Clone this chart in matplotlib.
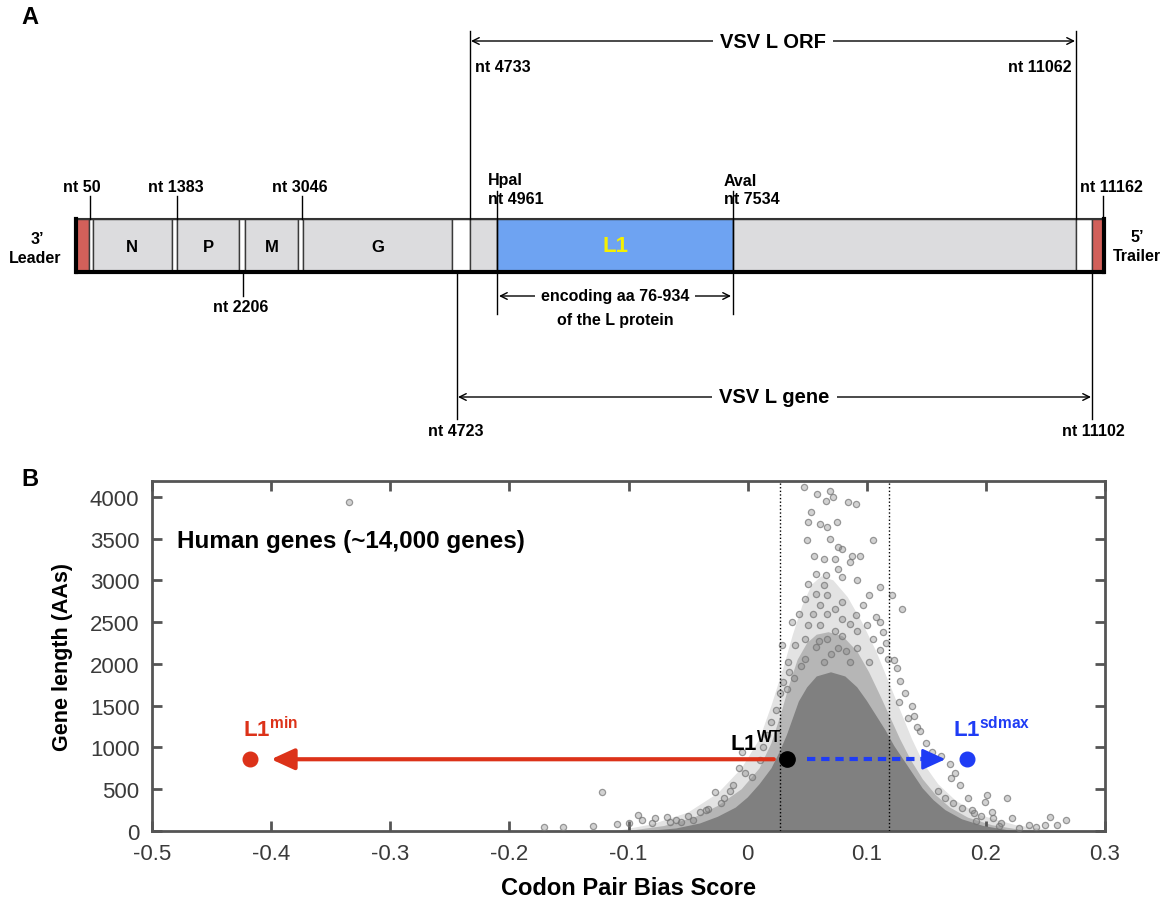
import numpy as np
import matplotlib
matplotlib.use('Agg')
import matplotlib.pyplot as plt
from matplotlib.patches import Rectangle, Polygon
from matplotlib import font_manager as fm

names = {f.name for f in fm.fontManager.ttflist}
NARROW = 'Liberation Sans Narrow' if 'Liberation Sans Narrow' in names else 'Liberation Sans'
SANS = 'Liberation Sans'
plt.rcParams['font.family'] = [SANS, 'DejaVu Sans']
plt.rcParams['axes.unicode_minus'] = False
plt.rcParams['mathtext.fontset'] = 'custom'
plt.rcParams['mathtext.rm'] = 'Liberation Sans'
plt.rcParams['mathtext.bf'] = 'Liberation Sans:bold'

# ---------------- data : panel A (VSV genome map) ----------------
gene_names = ['N', 'P', 'M', 'G']
nt_top = [50, 1383, 3046, 11162]
nt_bottom = [2206]
orf_nt = [4733, 11062]
lgene_nt = [4723, 11102]
site_names = ['HpaI', 'AvaI']
site_nt = [4961, 7534]
l1_aa = [76, 934]

# ---------------- data : panel B (codon pair bias) ----------------
cpb_ticks = [-0.5, -0.4, -0.3, -0.2, -0.1, 0.0, 0.1, 0.2, 0.3]
len_ticks = [0, 500, 1000, 1500, 2000, 2500, 3000, 3500, 4000]
sd_band = [0.027, 0.119]
l1_len = 859
l1_wt_cpb = 0.033
l1_min_cpb = -0.418
l1_sdmax_cpb = 0.184

# density outlines of the human gene cloud (CPB, length)
core_x = [-0.085, -0.06, -0.04, -0.025, -0.01, 0.0, 0.01, 0.02, 0.027, 0.033, 0.038, 0.043,
          0.050, 0.058, 0.070, 0.082, 0.092, 0.100, 0.108, 0.116, 0.123, 0.131, 0.139, 0.147,
          0.156, 0.166, 0.180, 0.198, 0.222]
core_y = [0, 30, 90, 170, 280, 400, 560, 750, 950, 1150, 1350, 1550,
          1720, 1850, 1900, 1850, 1720, 1560, 1380, 1200, 1020, 850, 680, 510,
          370, 250, 140, 60, 0]
mid_x = [-0.10, -0.07, -0.045, -0.025, -0.005, 0.010, 0.020, 0.028, 0.035, 0.042, 0.050,
         0.058, 0.068, 0.080, 0.092, 0.102, 0.112, 0.120, 0.128, 0.137, 0.147, 0.158, 0.170,
         0.185, 0.205, 0.235]
mid_y = [0, 60, 160, 300, 500, 750, 1050, 1400, 1750, 2050, 2250,
         2350, 2380, 2330, 2150, 1900, 1600, 1350, 1100, 850, 620, 430, 280,
         160, 70, 0]
halo_x = [-0.11, -0.08, -0.05, -0.025, -0.005, 0.010, 0.020, 0.030, 0.038, 0.046, 0.054,
          0.062, 0.072, 0.084, 0.096, 0.108, 0.118, 0.128, 0.138, 0.148, 0.160, 0.175, 0.195,
          0.225, 0.26]
halo_y = [0, 80, 220, 450, 750, 1100, 1500, 1950, 2350, 2700, 2950,
          3050, 3000, 2800, 2500, 2150, 1800, 1450, 1100, 800, 560, 360, 190,
          70, 0]
# individually visible genes
genes_x = [0.047, 0.058, 0.069, 0.066, 0.072, 0.084, 0.091, 0.053, 0.051, 0.061, 0.067, 0.075,
           0.105, 0.050, 0.069, 0.076, 0.079, 0.056, 0.064, 0.073, 0.088, 0.094, 0.086, 0.076,
           0.057, 0.066, 0.079, 0.092, 0.051, 0.064, 0.111, 0.057, 0.067, 0.102, 0.121, 0.048,
           0.079, 0.061, 0.073, 0.130, 0.055, 0.067, 0.091, 0.079, 0.037, 0.051, 0.061, 0.086,
           0.100, 0.111, 0.073, 0.092, 0.114, 0.048, 0.067, 0.079, 0.105, 0.040, 0.057, 0.076,
           0.092, 0.111, 0.034, 0.048, 0.064, 0.086, 0.102, 0.118, 0.029, 0.125, 0.035, 0.128,
           0.030, 0.132, 0.027, 0.138, 0.024, 0.140, 0.020, 0.145, 0.016, 0.150, 0.013, 0.155,
           -0.005, -0.007, -0.002, -0.027, -0.122, -0.092, -0.089, -0.078, -0.068, -0.100,
           -0.065, -0.056, -0.046, -0.040, -0.033, -0.020, -0.012, -0.171, -0.155, -0.335,
           -0.130, -0.110, 0.201, 0.218, 0.185, 0.199, 0.171, 0.174, 0.206, 0.222, 0.236,
           0.254, 0.267, 0.250, 0.260, 0.188, 0.192, 0.213, 0.170, 0.162, 0.178,
           0.043, 0.097, 0.108, 0.083, 0.070, 0.060, 0.045, 0.116, 0.123, 0.039, 0.033, 0.127,
           0.135, 0.142, 0.010, 0.004, -0.015, -0.022, -0.035, -0.050, -0.060, -0.080, 0.160,
           0.166, 0.172, 0.180, 0.190, 0.196, 0.205, 0.211, 0.228, 0.242]
genes_y = [4116, 4036, 4076, 3956, 4000, 3936, 3916, 3813, 3697, 3677, 3637, 3697,
           3478, 3478, 3498, 3398, 3378, 3298, 3259, 3259, 3298, 3298, 3219, 3139,
           3080, 3060, 3040, 3000, 2960, 2940, 2920, 2841, 2821, 2821, 2821, 2781,
           2741, 2701, 2661, 2661, 2602, 2602, 2582, 2540, 2502, 2462, 2462, 2480,
           2462, 2502, 2400, 2400, 2382, 2303, 2303, 2340, 2303, 2223, 2200, 2190,
           2190, 2170, 2024, 2064, 2024, 2024, 2024, 2064, 2223, 1950, 1900, 1800,
           1780, 1650, 1650, 1500, 1450, 1380, 1300, 1200, 1150, 1050, 1000, 950,
           948, 749, 700, 470, 470, 191, 130, 150, 171, 92,
           110, 110, 130, 231, 260, 400, 550, 52, 52, 3940,
           60, 80, 430, 390, 400, 350, 629, 700, 151, 151, 72,
           171, 131, 72, 72, 250, 120, 100, 800, 900, 550,
           2600, 2700, 2560, 2150, 2120, 2280, 1980, 2250, 2050, 1830, 1700, 1550,
           1350, 1250, 850, 650, 480, 340, 250, 180, 130, 90, 480,
           390, 330, 270, 210, 180, 230, 60, 40, 45]

# ---------------- figure ----------------
W, H = 1168, 904
fig = plt.figure(figsize=(W / 100, H / 100), dpi=100)
fig.patch.set_facecolor('white')

# panel A on a pixel-grid canvas
axA = fig.add_axes([0, 0, 1, 1], zorder=0)
axA.set_xlim(0, W)
axA.set_ylim(H, 0)
axA.axis('off')

# schematic placement of nucleotide positions (map is not to scale)
anchor_nt = [0, 50, 1383, 2206, 3046, 4723, 4733, 4961, 7534, 11062, 11102, 11162, 11200]
anchor_px = [75, 90, 177, 243, 302, 457, 470, 497, 733, 1076, 1092, 1103, 1105]
def px(nt):
    return float(np.interp(nt, anchor_nt, anchor_px))

y0, y1 = 220, 273
ym = (y0 + y1) / 2
GRAY = '#dcdcde'
RED = '#d2605a'
BLUE_L1 = '#6ea3f2'
segs = [  # (left, right, color)
    (76, 89, RED), (89, 93, 'white'), (93, 172, GRAY), (172, 177, 'white'),
    (177, 239, GRAY), (239, 245, 'white'), (245, 298, GRAY), (298, 303, 'white'),
    (303, 452, GRAY), (452, 470, 'white'), (470, 497, GRAY), (497, 733, BLUE_L1),
    (733, 1076, GRAY), (1076, 1092, 'white'), (1092, 1104, RED)]
for l, r, c in segs:
    axA.add_patch(Rectangle((l, y0), r - l, y1 - y0, facecolor=c, edgecolor='#3a3a3a', lw=1.0))
# outer frame
axA.plot([75, 1105], [y0, y0], color='#333333', lw=1.5, solid_capstyle='butt')
axA.plot([75, 1105], [y1, y1], color='black', lw=3, solid_capstyle='butt')
axA.plot([76, 76], [y0, y1], color='black', lw=3)
axA.plot([1104, 1104], [y0, y1], color='black', lw=3)

tA = dict(fontfamily=NARROW, fontweight='bold', color='black')
ntfs = 13 if NARROW != SANS else 11.5

# gene letters
for g, xc in zip(gene_names, [132, 208, 272, 378]):
    axA.text(xc, ym + 1, g, ha='center', va='center', fontsize=12, **tA)
axA.text(615, ym, 'L1', ha='center', va='center', fontsize=16, fontfamily=NARROW,
         fontweight='bold', color='#f5f000')

# marks above the box
top_lab_x = [82, 176, 300, 1111]
for nt, lx in zip(nt_top, top_lab_x):
    x = px(nt)
    axA.plot([x, x], [197, y0], color='black', lw=1)
    axA.text(lx, 188, f'nt {nt}', ha='center', va='center', fontsize=ntfs, **tA)
for nt in nt_bottom:
    x = px(nt)
    axA.plot([x, x], [y1, 297], color='black', lw=1)
    axA.text(x - 2, 308, f'nt {nt}', ha='center', va='center', fontsize=ntfs, **tA)

# restriction sites
for name, nt in zip(site_names, site_nt):
    x = px(nt)
    axA.plot([x, x], [192, 315], color='black', lw=1)
    axA.text(x - 9, 181, name, ha='left', va='center', fontsize=ntfs, **tA)
    axA.text(x - 9, 199, f'nt {nt}', ha='left', va='center', fontsize=ntfs, **tA)

def dim_arrow(xa, xb, y, label, fs):
    axA.annotate('', xy=(xb, y), xytext=(xa, y),
                 arrowprops=dict(arrowstyle='<->', color='black', lw=1, mutation_scale=12,
                                 shrinkA=0, shrinkB=0))
    axA.text((xa + xb) / 2, y, label, ha='center', va='center', fontsize=fs,
             bbox=dict(boxstyle='square,pad=0.35', fc='white', ec='none'), **tA)

# ORF
xa, xb = px(orf_nt[0]), px(orf_nt[1])
axA.plot([xa, xa], [32, y0], color='black', lw=1)
axA.plot([xb, xb], [32, y0], color='black', lw=1)
dim_arrow(xa + 1, xb - 1, 42, 'VSV L ORF', 14.5)
axA.text(xa + 5, 67, f'nt {orf_nt[0]}', ha='left', va='center', fontsize=ntfs, **tA)
axA.text(xb - 4, 67, f'nt {orf_nt[1]}', ha='right', va='center', fontsize=ntfs, **tA)

# L gene
xa, xb = px(lgene_nt[0]), px(lgene_nt[1])
axA.plot([xa, xa], [y1, 420], color='black', lw=1)
axA.plot([xb, xb], [y1, 420], color='black', lw=1)
dim_arrow(xa + 1, xb - 1, 398, 'VSV L gene', 14.5)
axA.text(xa - 1, 432, f'nt {lgene_nt[0]}', ha='center', va='center', fontsize=ntfs, **tA)
axA.text(xb + 1, 432, f'nt {lgene_nt[1]}', ha='center', va='center', fontsize=ntfs, **tA)

# L1 coding range
xa, xb = px(site_nt[0]), px(site_nt[1])
dim_arrow(xa + 2, xb - 2, 297, f'encoding aa {l1_aa[0]}-{l1_aa[1]}', ntfs)
axA.text((xa + xb) / 2, 321, 'of the L protein', ha='center', va='center', fontsize=ntfs, **tA)

# ends
axA.text(37, 240, "3’", ha='center', va='center', fontsize=ntfs, **tA)
axA.text(35, 259, 'Leader', ha='center', va='center', fontsize=ntfs, **tA)
axA.text(1137, 238, "5’", ha='center', va='center', fontsize=ntfs, **tA)
axA.text(1137, 257, 'Trailer', ha='center', va='center', fontsize=ntfs, **tA)

# panel letters
axA.text(30, 18, 'A', ha='center', va='center', fontsize=17, fontweight='bold')
axA.text(30, 480, 'B', ha='center', va='center', fontsize=17, fontweight='bold')

# ---------------- panel B ----------------
axB = fig.add_axes([152 / W, (H - 832) / H, 953 / W, 350 / H], zorder=2)
axB.set_xlim(cpb_ticks[0], cpb_ticks[-1])
axB.set_ylim(0, 4190)
axB.patch.set_alpha(0)

CLOUD = '#808080'
axB.add_patch(Polygon(np.column_stack([halo_x, halo_y]), closed=True, facecolor=CLOUD,
                      alpha=0.22, edgecolor='none', zorder=1))
axB.add_patch(Polygon(np.column_stack([mid_x, mid_y]), closed=True, facecolor=CLOUD,
                      alpha=0.45, edgecolor='none', zorder=1))
axB.add_patch(Polygon(np.column_stack([core_x, core_y]), closed=True, facecolor=CLOUD,
                      edgecolor='none', zorder=2))
axB.scatter(genes_x, genes_y, s=20, facecolor=(0.5, 0.5, 0.5, 0.35),
            edgecolor=(0.45, 0.45, 0.45, 0.7), lw=0.9, zorder=3)

for xv in sd_band:
    axB.axvline(xv, color='black', lw=1, ls=(0, (1, 1.6)), zorder=4)

RED_B = '#dc3219'
BLUE_B = '#1f3cf5'
axB.annotate('', xy=(-0.400, l1_len), xytext=(0.022, l1_len),
             arrowprops=dict(arrowstyle='-|>,head_length=0.7,head_width=0.32', color=RED_B,
                             lw=3, mutation_scale=20, shrinkA=0, shrinkB=0), zorder=5)
axB.plot([0.050, 0.157], [l1_len, l1_len], color=BLUE_B, lw=3, ls=(0, (2.0, 1.4)), zorder=5)
axB.annotate('', xy=(0.166, l1_len), xytext=(0.154, l1_len),
             arrowprops=dict(arrowstyle='-|>,head_length=0.7,head_width=0.32', color=BLUE_B,
                             lw=2, mutation_scale=20, shrinkA=0, shrinkB=0), zorder=5)
axB.plot([l1_min_cpb], [l1_len], 'o', color=RED_B, ms=10.5, zorder=6)
axB.plot([l1_wt_cpb], [l1_len], 'o', color='black', ms=11, zorder=6)
axB.plot([l1_sdmax_cpb], [l1_len], 'o', color=BLUE_B, ms=10.5, zorder=6)

axB.text(-0.424, 1130, r'$\mathbf{L1^{min}}$', color=RED_B, fontsize=16, ha='left',
         va='baseline', zorder=7)
axB.text(-0.015, 980, r'$\mathbf{L1^{WT}}$', color='black', fontsize=16, ha='left',
         va='baseline', zorder=7)
axB.text(0.172, 1130, r'$\mathbf{L1^{sdmax}}$', color=BLUE_B, fontsize=16, ha='left',
         va='baseline', zorder=7)
axB.text(25 / 953, (832 - 542) / 350, 'Human genes (~14,000 genes)', transform=axB.transAxes,
         fontsize=17.5, fontweight='bold', ha='left', va='center')

SP = '#555555'
for s in axB.spines.values():
    s.set_color(SP)
    s.set_linewidth(2)
axB.set_xticks(cpb_ticks)
axB.set_xticklabels(['0' if abs(v) < 1e-9 else f'{v:.1f}' for v in cpb_ticks])
axB.set_yticks(len_ticks)
axB.set_yticklabels([str(v) for v in len_ticks])
axB.tick_params(direction='in', length=7, width=2, color=SP, top=True, right=True,
                labelsize=16, labelcolor='#3a3a3a', pad=9)
axB.set_xlabel('Codon Pair Bias Score', fontsize=17, fontweight='bold', labelpad=8)
axB.set_ylabel('Gene length (AAs)', fontsize=15.5, fontweight='bold', labelpad=12)

fig.savefig('out.png', dpi=100, facecolor='white')
